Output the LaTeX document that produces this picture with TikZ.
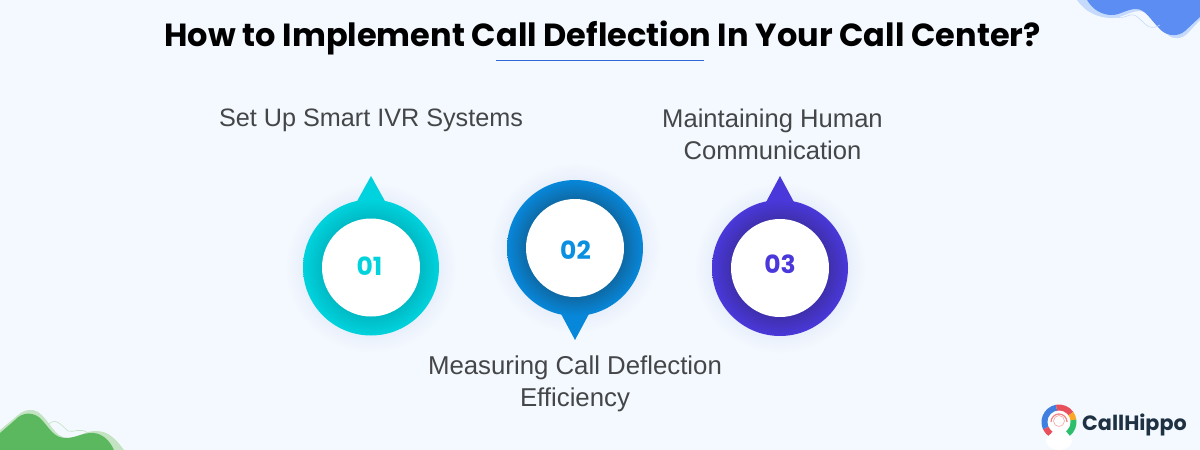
\documentclass[tikz,border=0pt]{standalone}
\usepackage{fontspec}
\setmainfont{Liberation Sans}
\newfontfamily\titlefont{Poppins}
\definecolor{bgc}{HTML}{F4F9FF}
\definecolor{labelc}{HTML}{444648}
\definecolor{shadowc}{HTML}{EAF0FB}
\definecolor{aedge}{HTML}{00D3DD}\definecolor{adark}{HTML}{00BAC5}
\definecolor{bedge}{HTML}{0787DA}\definecolor{bdark}{HTML}{0E6AA6}
\definecolor{cedge}{HTML}{4A38DA}\definecolor{cdark}{HTML}{3F30AE}
\definecolor{bnum}{HTML}{0B8FE0}
\definecolor{bluedark}{HTML}{5B8DF2}\definecolor{bluelight}{HTML}{C6DAFC}
\definecolor{greendark}{HTML}{5CB85F}\definecolor{greenlight}{HTML}{C3E3C3}
\definecolor{ulc}{HTML}{2F6BD8}
\definecolor{lgblue}{HTML}{3F7FE0}\definecolor{lgred}{HTML}{E8505B}
\definecolor{lgorange}{HTML}{F9A825}\definecolor{lggreen}{HTML}{2DBE6C}
\definecolor{lgpink}{HTML}{F08282}\definecolor{lgtext}{HTML}{1F3244}
\pgfdeclareradialshading{ringa}{\pgfpoint{0bp}{0bp}}{color(0bp)=(adark);color(18bp)=(adark);color(25bp)=(aedge);color(50bp)=(aedge)}
\pgfdeclareradialshading{ringb}{\pgfpoint{0bp}{0bp}}{color(0bp)=(bdark);color(18bp)=(bdark);color(25bp)=(bedge);color(50bp)=(bedge)}
\pgfdeclareradialshading{ringc}{\pgfpoint{0bp}{0bp}}{color(0bp)=(cdark);color(18bp)=(cdark);color(25bp)=(cedge);color(50bp)=(cedge)}
\pgfdeclareradialshading{halo}{\pgfpoint{0bp}{0bp}}{color(0bp)=(shadowc);color(20bp)=(shadowc);color(25bp)=(bgc);color(50bp)=(bgc)}
\tikzset{
  ring/.style={circle,minimum size=136pt,inner sep=0pt,shading=#1},
  haloc/.style={circle,minimum size=172pt,inner sep=0pt,shading=halo},
  hub/.style={circle,minimum size=98pt,inner sep=0pt,fill=white},
  numtext/.style={inner sep=0pt,font=\titlefont\fontsize{25}{25}\selectfont\bfseries,text=#1},
  lab/.style={align=center,text=labelc,font=\fontsize{#1}{32}\selectfont},
}
\newcommand\logoseg[3]{\fill[#1] (0,0) -- (#2:17.5) arc[start angle=#2,end angle=#3,radius=17.5] -- cycle;}
\begin{document}
\begin{tikzpicture}[x=1pt,y=-1pt]
\fill[bgc] (0,0) rectangle (1200,450);
\useasboundingbox (0,0) rectangle (1200,450);
% corner blobs
\fill[bluelight] (1077,0) .. controls (1085,12) and (1098,18) .. (1112,18) .. controls (1122,18) and (1130,11) .. (1140,11) .. controls (1150,12) and (1158,25) .. (1168,35) .. controls (1174,40) and (1182,39) .. (1188,33) -- (1200,20) -- (1200,0) -- cycle;
\fill[bluedark] (1087,0) .. controls (1093,10) and (1102,15) .. (1112,15) .. controls (1120,15) and (1127,9) .. (1136,9) .. controls (1146,9) and (1150,20) .. (1162,31) .. controls (1168,36) and (1178,37) .. (1185,31) -- (1200,17) -- (1200,0) -- cycle;
\draw[bluelight,line width=.6pt] (1112,15) .. controls (1118,20) and (1124,17) .. (1130,15) .. controls (1138,13) and (1142,24) .. (1150,27) .. controls (1154,28) and (1157,27) .. (1160,25);
\fill[greenlight] (18,415) .. controls (24,410) and (32,408) .. (38,412) .. controls (50,420) and (54,438) .. (68,438) .. controls (78,438) and (84,431) .. (96,431) .. controls (108,431) and (115,438) .. (124,450) -- (0,450) -- (0,430) -- cycle;
\fill[greendark] (0,433) -- (15,420) .. controls (22,412) and (34,411) .. (42,420) .. controls (50,429) and (54,438) .. (66,438) .. controls (76,438) and (84,432) .. (94,433) .. controls (103,434) and (110,441) .. (114,450) -- (0,450) -- cycle;
\draw[greenlight,line width=.6pt] (49,424) .. controls (56,417) and (62,426) .. (68,431) .. controls (74,433) and (80,427) .. (88,433);
% title
\node[anchor=base,font=\titlefont\bfseries\fontsize{32}{32}\selectfont,text=black] (title) at (602.5,46) {How to Implement Call Deflection In Your Call Center?};
\coordinate (ula) at (496,60.5);\coordinate (ulb) at (704,60.5);
\draw[ulc,line width=1.8pt] (ula) -- (ulb);
% halos
\node[haloc] (ha) at (371,267.5) {};
\node[haloc] (hb) at (575,248) {};
\node[haloc] (hc) at (780,268) {};
% pointers
\coordinate (ta) at (371,176);\coordinate (tb) at (575,340);\coordinate (tc) at (780,176);
\fill[aedge] (ta) -- (356,203) -- (386,203) -- cycle;
\fill[bedge] (tb) -- (560,312) -- (590,312) -- cycle;
\fill[cedge] (tc) -- (765,204) -- (795,204) -- cycle;
% rings
\node[ring=ringa] (ra) at (371,267.5) {};
\node[ring=ringb] (rb) at (575,248) {};
\node[ring=ringc] (rc) at (780,268) {};
\node[hub] (na) at (371,267.5) {};
\node[hub] (nb) at (575,248) {};
\node[hub] (nc) at (780,268) {};
\node[numtext=aedge] (ma) at (369.5,266) {01};
\node[numtext=bnum] (mb) at (575.5,250) {02};
\node[numtext=cedge] (mc) at (780,264) {03};
% labels
\node[lab=25.2] (la) at (371,120) {Set Up Smart IVR Systems};
\node[lab=25.6] (lc) at (772.5,134) {Maintaining Human\\Communication};
\node[lab=25.8] (lb) at (575,384) {Measuring Call Deflection\\Efficiency};
% logo
\begin{scope}[shift={(1059,422)},y=1pt]
\logoseg{lgblue}{100}{205}
\logoseg{lgred}{35}{100}
\logoseg{lgorange}{8}{35}
\logoseg{lggreen}{-52}{8}
\logoseg{lgred}{205}{235}
\node[circle,fill=white,minimum size=23pt,inner sep=0pt] (lgc) at (0,0) {};
\draw[lgpink,line width=1.2pt] (-8,0) arc[start angle=180,end angle=0,radius=8];
\node[circle,fill=white,draw=lgpink!70,line width=.6pt,minimum size=11pt,inner sep=0pt] (lgh) at (0,1) {};
\fill[white] (0,-19) ellipse[x radius=13,y radius=9];
\end{scope}
\node[anchor=base west,inner sep=0pt,font=\titlefont\fontsize{20.7}{24}\selectfont\bfseries,text=lgtext] (lgt) at (1082,430) {CallHippo};
\end{tikzpicture}
\end{document}
